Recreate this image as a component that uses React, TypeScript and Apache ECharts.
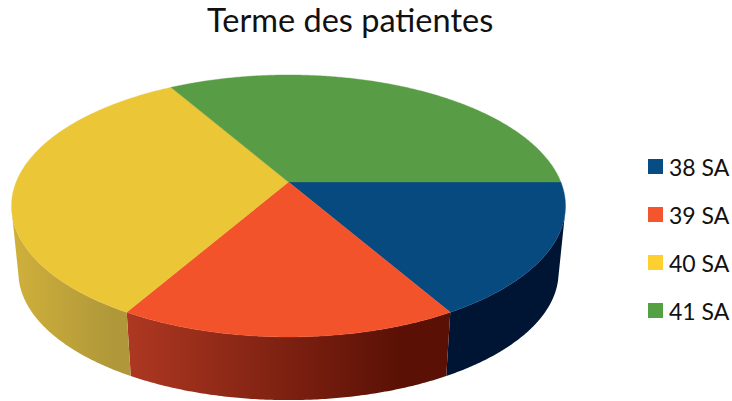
import React, { useEffect, useRef } from "react";
import * as echarts from "echarts";

const titleText = "Terme des patientes";
const categories = ["38 SA", "39 SA", "40 SA", "41 SA"];
const values = [1, 1, 2, 2];
const topColors = ["#064a80", "#f2532a", "#ebc637", "#589c46"];
const legendColors = ["#084c84", "#f4552d", "#fdd02f", "#56a044"];
const sideStart = ["#001433", "#ae3822", "#d0b03a", "#4a8038"];
const sideEnd = ["#001433", "#5a1005", "#b0983a", "#4a8038"];

const CX = 288.5, CY = 182, A = 272.3, B = 126.6, K = 0.183, SHRINK = 0.975, DROP = 67;
const total = values.reduce((s, v) => s + v, 0);

function top(deg: number): [number, number] {
  const t = (deg * Math.PI) / 180;
  const w = 1 - K * Math.sin(t);
  return [CX + (A * Math.cos(t)) / w, CY + (B * Math.sin(t)) / w];
}
function bottom(deg: number): [number, number] {
  const [x, y] = top(deg);
  return [CX + SHRINK * (x - CX), CY + DROP + SHRINK * (y - CY)];
}
function isFacing(deg: number, step: number) {
  const p = top(deg), q = top(deg + step), b = bottom(deg);
  return (q[0] - p[0]) * (b[1] - p[1]) - (q[1] - p[1]) * (b[0] - p[0]) < 0;
}

function makeRender(index: number) {
  return (_params: any, api: any) => {
    const before = values.slice(0, index).reduce((s, v) => s + v, 0);
    const start = (before / total) * 360;
    const end = start + (api.value(0) / total) * 360;
    const topPts: number[][] = [[CX, CY]];
    const upper: number[][] = [];
    const lower: number[][] = [];
    for (let d = start; d <= end + 1e-6; d += 0.5) {
      topPts.push(top(d));
      if (isFacing(d, 0.5)) {
        upper.push(top(d));
        lower.unshift(bottom(d));
      }
    }
    const children: any[] = [];
    if (upper.length > 1) {
      children.push({
        type: "polygon",
        z2: 0,
        shape: { points: upper.concat(lower) },
        style: {
          fill: new echarts.graphic.LinearGradient(0, 0, 1, 0, [
            { offset: 0, color: sideStart[index] },
            { offset: 0.85, color: sideEnd[index] },
            { offset: 1, color: sideEnd[index] },
          ]),
          stroke: "none",
        },
      });
    }
    children.push({
      type: "polygon",
      z2: 1,
      shape: { points: topPts },
      style: { fill: topColors[index], stroke: topColors[index], lineWidth: 0.4 },
    });
    return { type: "group", children };
  };
}

export default function App() {
  const ref = useRef<HTMLDivElement>(null);
  useEffect(() => {
    const chart = echarts.init(ref.current!, undefined, { renderer: "svg" });
    chart.setOption({
      animation: false,
      backgroundColor: "#ffffff",
      title: {
        text: titleText,
        left: 207,
        top: 3,
        padding: 0,
        textStyle: { fontFamily: "Lato", fontWeight: "normal", fontSize: 32.5, color: "#111111" },
      },
      legend: {
        orient: "vertical",
        left: 648,
        top: 155,
        padding: 0,
        itemWidth: 15,
        itemHeight: 15,
        itemGap: 25,
        icon: "rect",
        textStyle: { fontFamily: "Lato", fontSize: 23, color: "#111111", padding: [0, 0, 0, 1] },
        data: categories.map((name, i) => ({ name, itemStyle: { color: legendColors[i] } })),
      },
      series: categories.map((name, i) => ({
        type: "custom",
        name,
        coordinateSystem: "none",
        silent: true,
        itemStyle: { color: legendColors[i] },
        data: [[values[i]]],
        renderItem: makeRender(i),
      })),
    });
    return () => chart.dispose();
  }, []);
  return <div ref={ref} style={{ position: "fixed", left: 0, top: 0, width: 732, height: 401 }} />;
}
